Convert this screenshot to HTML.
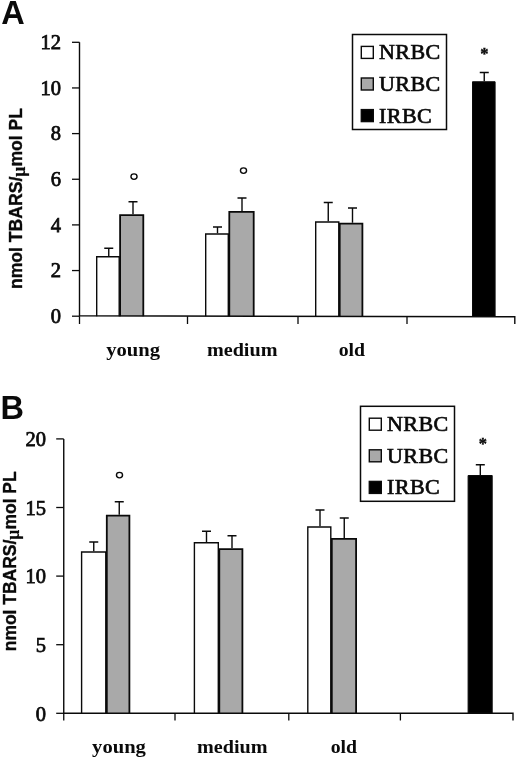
<!DOCTYPE html>
<html><head><meta charset="utf-8"><title>Figure</title>
<style>
html,body{margin:0;padding:0;background:#fff}
svg{display:block}
text{fill:#0a0a0a}
.tk{font:20.5px "Liberation Serif",serif;stroke:#0a0a0a;stroke-width:.75px}
.xl{font:bold 18.8px "Liberation Serif",serif}
.lg{font:22px "Liberation Serif",serif;stroke:#0a0a0a;stroke-width:.7px;letter-spacing:.45px}
.pl{font:bold 32.5px "Liberation Sans",sans-serif}
.yl{font:bold 18px "Liberation Sans",sans-serif;stroke:#0a0a0a;stroke-width:.35px}
.mu{font:bold 18px "Liberation Serif",serif;stroke-width:.2px}
.ast{font:bold 16.5px "Liberation Serif",serif;stroke:#0a0a0a;stroke-width:.4px}
</style></head><body>
<svg width="520" height="760" viewBox="0 0 520 760">
<rect width="520" height="760" fill="#fff"/>
<path d="M108.75 256.00V248.30M104.25 248.30H113.25" stroke="#0a0a0a" stroke-width="1.4" fill="none"/>
<path d="M96.70 316.20V256.70H119.20V316.20" fill="#fff" stroke="#0a0a0a" stroke-width="1.4"/>
<path d="M133.00 214.20V201.75M128.50 201.75H137.50" stroke="#0a0a0a" stroke-width="1.4" fill="none"/>
<path d="M120.10 316.20V215.10H143.30V316.20" fill="#a9a9a9" stroke="#0a0a0a" stroke-width="1.8"/>
<path d="M217.50 233.30V227.00M213.00 227.00H222.00" stroke="#0a0a0a" stroke-width="1.4" fill="none"/>
<path d="M205.70 316.20V234.00H228.30V316.20" fill="#fff" stroke="#0a0a0a" stroke-width="1.4"/>
<path d="M242.00 211.00V198.00M237.50 198.00H246.50" stroke="#0a0a0a" stroke-width="1.4" fill="none"/>
<path d="M229.30 316.20V211.90H253.70V316.20" fill="#a9a9a9" stroke="#0a0a0a" stroke-width="1.8"/>
<path d="M328.25 221.25V202.50M323.75 202.50H332.75" stroke="#0a0a0a" stroke-width="1.4" fill="none"/>
<path d="M315.70 316.20V221.95H338.80V316.20" fill="#fff" stroke="#0a0a0a" stroke-width="1.4"/>
<path d="M352.50 222.80V208.00M348.00 208.00H357.00" stroke="#0a0a0a" stroke-width="1.4" fill="none"/>
<path d="M339.70 316.20V223.70H362.40V316.20" fill="#a9a9a9" stroke="#0a0a0a" stroke-width="1.8"/>
<path d="M484.25 81.25V72.50M479.75 72.50H488.75" stroke="#0a0a0a" stroke-width="1.4" fill="none"/>
<path d="M472.50 316.20V81.75H495.10V316.20" fill="#000" stroke="#0a0a0a" stroke-width="1.0"/>
<path d="M79.5 42.3V315.80L514.8 316.80V324" stroke="#0a0a0a" stroke-width="1.4" fill="none"/>
<path d="M72 42.30H79.5" stroke="#0a0a0a" stroke-width="1.3"/>
<text x="61.1" y="48.90" class="tk" text-anchor="end">12</text>
<path d="M72 87.95H79.5" stroke="#0a0a0a" stroke-width="1.3"/>
<text x="61.1" y="94.55" class="tk" text-anchor="end">10</text>
<path d="M72 133.60H79.5" stroke="#0a0a0a" stroke-width="1.3"/>
<text x="61.1" y="140.20" class="tk" text-anchor="end">8</text>
<path d="M72 179.25H79.5" stroke="#0a0a0a" stroke-width="1.3"/>
<text x="61.1" y="185.85" class="tk" text-anchor="end">6</text>
<path d="M72 224.90H79.5" stroke="#0a0a0a" stroke-width="1.3"/>
<text x="61.1" y="231.50" class="tk" text-anchor="end">4</text>
<path d="M72 270.55H79.5" stroke="#0a0a0a" stroke-width="1.3"/>
<text x="61.1" y="277.15" class="tk" text-anchor="end">2</text>
<path d="M72 316.20H79.5" stroke="#0a0a0a" stroke-width="1.3"/>
<text x="61.1" y="322.80" class="tk" text-anchor="end">0</text>
<path d="M79.5 316.2V324" stroke="#0a0a0a" stroke-width="1.3"/>
<path d="M187.5 316.2V324" stroke="#0a0a0a" stroke-width="1.3"/>
<path d="M298 316.2V324" stroke="#0a0a0a" stroke-width="1.3"/>
<path d="M407 316.2V324" stroke="#0a0a0a" stroke-width="1.3"/>
<ellipse cx="134.0" cy="176.6" rx="3.05" ry="2.75" fill="#fff" stroke="#0a0a0a" stroke-width="1.4"/>
<ellipse cx="243.5" cy="170.6" rx="3.05" ry="2.75" fill="#fff" stroke="#0a0a0a" stroke-width="1.4"/>
<text x="484.3" y="58.8" class="ast" text-anchor="middle">*</text>
<text x="106.20" y="355.5" class="xl" textLength="53.8" lengthAdjust="spacingAndGlyphs">young</text>
<text x="206.90" y="355.5" class="xl" textLength="70.6" lengthAdjust="spacingAndGlyphs">medium</text>
<text x="338.70" y="355.5" class="xl" textLength="26.4" lengthAdjust="spacingAndGlyphs">old</text>
<rect x="352.5" y="34.5" width="94" height="95" fill="#fff" stroke="#0a0a0a" stroke-width="1.5"/><rect x="361.3" y="46.40" width="12" height="12" fill="#fff" stroke="#0a0a0a" stroke-width="1.4"/><text x="379" y="59.30" class="lg">NRBC</text><rect x="361.3" y="78.00" width="12" height="12" fill="#a9a9a9" stroke="#0a0a0a" stroke-width="1.4"/><text x="379" y="90.90" class="lg">URBC</text><rect x="361.3" y="109.60" width="12" height="12" fill="#000" stroke="#0a0a0a" stroke-width="1.4"/><text x="379" y="122.50" class="lg">IRBC</text>
<text x="1.2" y="24" class="pl">A</text>
<text transform="translate(21.9 289) rotate(-90)" class="yl" textLength="181" lengthAdjust="spacingAndGlyphs">nmol TBARS/<tspan class="mu" dy="3">µ</tspan><tspan dy="-3">mol PL</tspan></text>
<path d="M93.75 551.25V542.00M89.25 542.00H98.25" stroke="#0a0a0a" stroke-width="1.4" fill="none"/>
<path d="M81.60 713.30V551.95H105.80V713.30" fill="#fff" stroke="#0a0a0a" stroke-width="1.4"/>
<path d="M119.25 514.80V501.75M114.75 501.75H123.75" stroke="#0a0a0a" stroke-width="1.4" fill="none"/>
<path d="M106.80 713.30V515.70H129.40V713.30" fill="#a9a9a9" stroke="#0a0a0a" stroke-width="1.8"/>
<path d="M206.50 542.00V531.25M202.00 531.25H211.00" stroke="#0a0a0a" stroke-width="1.4" fill="none"/>
<path d="M194.40 713.30V542.70H218.30V713.30" fill="#fff" stroke="#0a0a0a" stroke-width="1.4"/>
<path d="M232.00 548.30V535.75M227.50 535.75H236.50" stroke="#0a0a0a" stroke-width="1.4" fill="none"/>
<path d="M219.30 713.30V549.20H242.40V713.30" fill="#a9a9a9" stroke="#0a0a0a" stroke-width="1.8"/>
<path d="M320.00 526.25V510.00M315.50 510.00H324.50" stroke="#0a0a0a" stroke-width="1.4" fill="none"/>
<path d="M307.80 713.30V526.95H330.80V713.30" fill="#fff" stroke="#0a0a0a" stroke-width="1.4"/>
<path d="M344.25 538.00V518.00M339.75 518.00H348.75" stroke="#0a0a0a" stroke-width="1.4" fill="none"/>
<path d="M331.80 713.30V538.90H356.10V713.30" fill="#a9a9a9" stroke="#0a0a0a" stroke-width="1.8"/>
<path d="M480.30 475.00V464.70M475.80 464.70H484.80" stroke="#0a0a0a" stroke-width="1.4" fill="none"/>
<path d="M468.10 713.30V475.50H492.20V713.30" fill="#000" stroke="#0a0a0a" stroke-width="1.0"/>
<path d="M63.75 438.9V713.30L513 713.30V720.5" stroke="#0a0a0a" stroke-width="1.4" fill="none"/>
<path d="M56.2 438.90H63.75" stroke="#0a0a0a" stroke-width="1.3"/>
<text x="46" y="446.20" class="tk" text-anchor="end">20</text>
<path d="M56.2 507.50H63.75" stroke="#0a0a0a" stroke-width="1.3"/>
<text x="46" y="514.80" class="tk" text-anchor="end">15</text>
<path d="M56.2 576.10H63.75" stroke="#0a0a0a" stroke-width="1.3"/>
<text x="46" y="583.40" class="tk" text-anchor="end">10</text>
<path d="M56.2 644.70H63.75" stroke="#0a0a0a" stroke-width="1.3"/>
<text x="46" y="652.00" class="tk" text-anchor="end">5</text>
<path d="M56.2 713.30H63.75" stroke="#0a0a0a" stroke-width="1.3"/>
<text x="46" y="720.60" class="tk" text-anchor="end">0</text>
<path d="M63.75 713.3V720.5" stroke="#0a0a0a" stroke-width="1.3"/>
<path d="M175 713.3V720.5" stroke="#0a0a0a" stroke-width="1.3"/>
<path d="M288.8 713.3V720.5" stroke="#0a0a0a" stroke-width="1.3"/>
<path d="M400.4 713.3V720.5" stroke="#0a0a0a" stroke-width="1.3"/>
<ellipse cx="119.5" cy="475.1" rx="3.05" ry="2.75" fill="#fff" stroke="#0a0a0a" stroke-width="1.4"/>
<text x="482.8" y="449.4" class="ast" text-anchor="middle">*</text>
<text x="92.10" y="753.3" class="xl" textLength="53.8" lengthAdjust="spacingAndGlyphs">young</text>
<text x="197.00" y="753.3" class="xl" textLength="70.6" lengthAdjust="spacingAndGlyphs">medium</text>
<text x="330.70" y="753.3" class="xl" textLength="26.4" lengthAdjust="spacingAndGlyphs">old</text>
<rect x="360.5" y="406.3" width="94" height="95" fill="#fff" stroke="#0a0a0a" stroke-width="1.5"/><rect x="369.3" y="418.20" width="12" height="12" fill="#fff" stroke="#0a0a0a" stroke-width="1.4"/><text x="387" y="431.10" class="lg">NRBC</text><rect x="369.3" y="449.80" width="12" height="12" fill="#a9a9a9" stroke="#0a0a0a" stroke-width="1.4"/><text x="387" y="462.70" class="lg">URBC</text><rect x="369.3" y="481.40" width="12" height="12" fill="#000" stroke="#0a0a0a" stroke-width="1.4"/><text x="387" y="494.30" class="lg">IRBC</text>
<text x="0.4" y="418.7" class="pl">B</text>
<text transform="translate(16.3 651.3) rotate(-90)" class="yl" textLength="180" lengthAdjust="spacingAndGlyphs">nmol TBARS/<tspan class="mu" dy="3">µ</tspan><tspan dy="-3">mol PL</tspan></text>
</svg>
</body></html>
